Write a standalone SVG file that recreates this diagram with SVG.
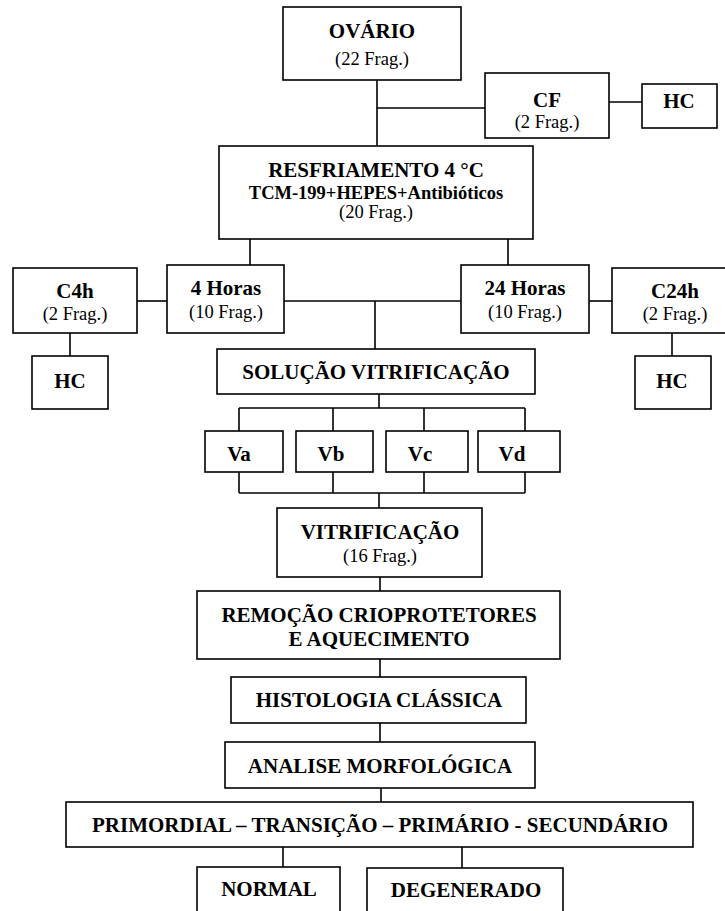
<svg xmlns="http://www.w3.org/2000/svg" width="725" height="911" viewBox="0 0 725 911">
<style>
rect{fill:#fff;stroke:#000;stroke-width:1.6}
.c line{stroke:#000;stroke-width:1.6}
text{font-family:"Times New Roman","Liberation Serif","DejaVu Serif",serif;text-anchor:middle;fill:#000}
.t{font-weight:bold;font-size:21px}
.s{font-weight:bold;font-size:18.5px}
.f{font-size:18.5px}
</style>
<rect x="0" y="0" width="725" height="911" style="stroke:none"/>
<g class="c">
<line x1="377" y1="80" x2="377" y2="146"/>
<line x1="377" y1="108" x2="485" y2="108"/>
<line x1="609" y1="102" x2="642" y2="102"/>
<line x1="250" y1="239" x2="250" y2="265"/>
<line x1="508" y1="239" x2="508" y2="265"/>
<line x1="137" y1="301" x2="167" y2="301"/>
<line x1="284" y1="301" x2="461" y2="301"/>
<line x1="589" y1="301" x2="612" y2="301"/>
<line x1="375" y1="301" x2="375" y2="349"/>
<line x1="70" y1="333" x2="70" y2="356"/>
<line x1="672" y1="333" x2="672" y2="356"/>
<line x1="379" y1="394" x2="379" y2="408"/>
<line x1="239" y1="408" x2="525" y2="408"/>
<line x1="239" y1="408" x2="239" y2="431"/>
<line x1="333" y1="408" x2="333" y2="431"/>
<line x1="424" y1="408" x2="424" y2="431"/>
<line x1="525" y1="408" x2="525" y2="431"/>
<line x1="239" y1="472" x2="239" y2="493"/>
<line x1="333" y1="472" x2="333" y2="493"/>
<line x1="424" y1="472" x2="424" y2="493"/>
<line x1="525" y1="472" x2="525" y2="493"/>
<line x1="239" y1="493" x2="525" y2="493"/>
<line x1="379" y1="493" x2="379" y2="508"/>
<line x1="380" y1="577" x2="380" y2="591"/>
<line x1="380" y1="659" x2="380" y2="677"/>
<line x1="380" y1="723" x2="380" y2="742"/>
<line x1="381" y1="788" x2="381" y2="802"/>
<line x1="283" y1="847" x2="283" y2="867"/>
<line x1="462" y1="847" x2="462" y2="868"/>
</g>
<g id="ovario"><rect x="283" y="7" width="178" height="73"/><text class="t" x="372" y="38">OVÁRIO</text><text class="f" x="372" y="65">(22 Frag.)</text></g>
<g id="cf"><rect x="485" y="73" width="124" height="65"/><text class="t" x="547" y="107">CF</text><text class="f" x="547" y="128">(2 Frag.)</text></g>
<g id="hc-cf"><rect x="642" y="84" width="75" height="44"/><text class="t" x="679" y="108">HC</text></g>
<g id="resfriamento"><rect x="219" y="146" width="314" height="93"/><text class="t" x="376" y="177">RESFRIAMENTO 4 °C</text><text class="s" x="376" y="199">TCM-199+HEPES+Antibióticos</text><text class="f" x="376" y="218">(20 Frag.)</text></g>
<g id="c4h"><rect x="13" y="268" width="124" height="65"/><text class="t" x="75" y="298">C4h</text><text class="f" x="75" y="320">(2 Frag.)</text></g>
<g id="h4"><rect x="167" y="265" width="117" height="68"/><text class="t" x="226" y="295">4 Horas</text><text class="f" x="226" y="318">(10 Frag.)</text></g>
<g id="h24"><rect x="461" y="265" width="128" height="68"/><text class="t" x="525" y="295">24 Horas</text><text class="f" x="525" y="318">(10 Frag.)</text></g>
<g id="c24h"><rect x="612" y="268" width="126" height="65"/><text class="t" x="675" y="298">C24h</text><text class="f" x="675" y="320">(2 Frag.)</text></g>
<g id="hc-c4h"><rect x="32" y="356" width="76" height="53"/><text class="t" x="70" y="388">HC</text></g>
<g id="hc-c24h"><rect x="635" y="356" width="76" height="53"/><text class="t" x="672" y="388">HC</text></g>
<g id="solucao"><rect x="217" y="349" width="318" height="45"/><text class="t" x="376" y="379">SOLUÇÃO VITRIFICAÇÃO</text></g>
<g id="va"><rect x="205" y="431" width="78" height="41"/><text class="t" x="239" y="461">Va</text></g>
<g id="vb"><rect x="296" y="431" width="77" height="41"/><text class="t" x="331" y="461">Vb</text></g>
<g id="vc"><rect x="386" y="431" width="82" height="41"/><text class="t" x="420" y="461">Vc</text></g>
<g id="vd"><rect x="478" y="431" width="82" height="41"/><text class="t" x="512" y="461">Vd</text></g>
<g id="vitrificacao"><rect x="277" y="508" width="205" height="69"/><text class="t" x="380" y="539">VITRIFICAÇÃO</text><text class="f" x="380" y="562">(16 Frag.)</text></g>
<g id="remocao"><rect x="197" y="591" width="363" height="68"/><text class="t" x="379" y="622">REMOÇÃO CRIOPROTETORES</text><text class="t" x="379" y="646">E AQUECIMENTO</text></g>
<g id="histologia"><rect x="231" y="677" width="295" height="46"/><text class="t" x="379" y="707">HISTOLOGIA CLÁSSICA</text></g>
<g id="analise"><rect x="225" y="742" width="310" height="46"/><text class="t" x="380" y="773">ANALISE MORFOLÓGICA</text></g>
<g id="primordial"><rect x="66" y="802" width="627" height="45"/><text class="t" x="380" y="832">PRIMORDIAL – TRANSIÇÃO – PRIMÁRIO - SECUNDÁRIO</text></g>
<g id="normal"><rect x="197" y="867" width="143" height="55"/><text class="t" x="269" y="896">NORMAL</text></g>
<g id="degenerado"><rect x="367" y="868" width="196" height="55"/><text class="t" x="466" y="897">DEGENERADO</text></g>
</svg>
